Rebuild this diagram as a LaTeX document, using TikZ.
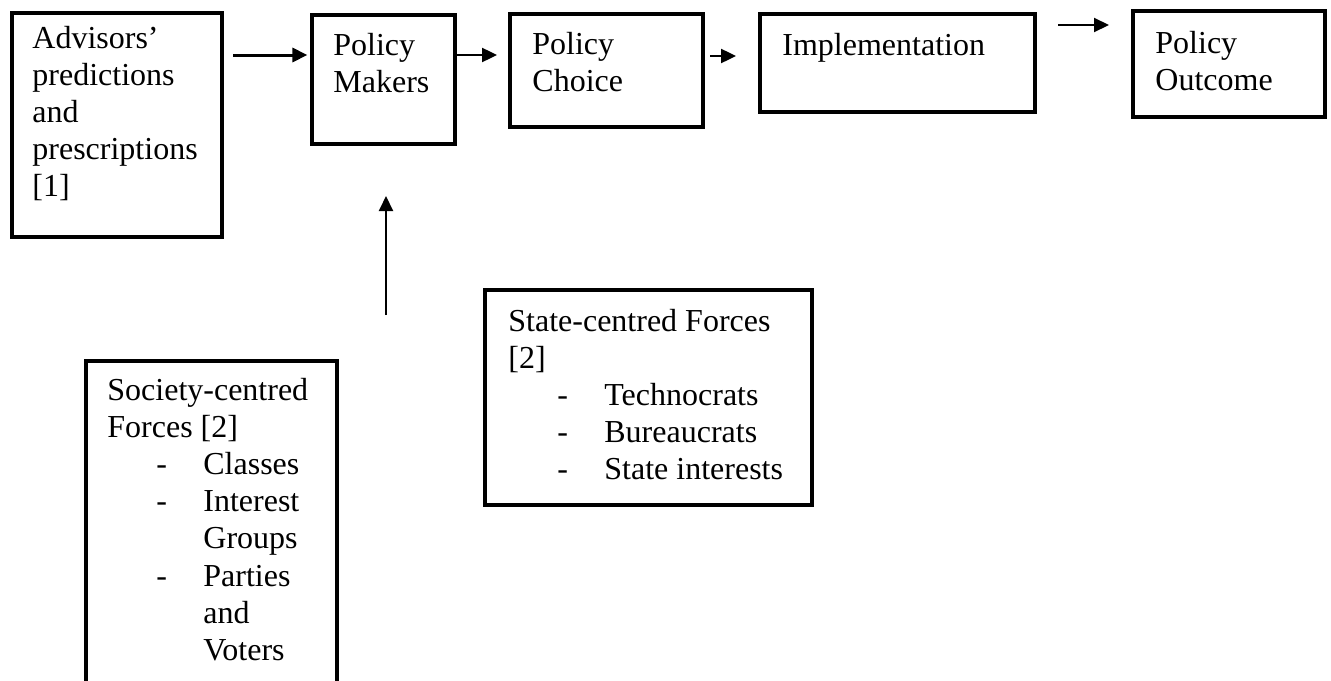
\documentclass[tikz,border=0pt]{standalone}
\usepackage{fontspec}
\setmainfont{Liberation Serif}
\usetikzlibrary{arrows.meta}
\newcommand{\dashitem}[1]{\hspace*{24.5pt}\makebox[23.5pt][l]{-}#1}
\newcommand{\contitem}[1]{\hspace*{48pt}#1}
\tikzset{
  box/.style={draw=black, line width=1.6pt, inner sep=0pt, fill=white},
  txt/.style={inner sep=0pt, anchor=base west, font=\fontsize{16pt}{18.6pt}\selectfont},
  arr/.style={draw=black, -{Triangle[length=7.5pt,width=7pt]}},
}
\begin{document}
\begin{tikzpicture}[x=0.5pt,y=-0.5pt]
\clip (0,0) rectangle (1331,680);
\fill[white] (0,0) rectangle (1331,680);
% boxes
\node[box, minimum width=105pt, minimum height=112pt] (adv) at (117,125) {};
\node[box, minimum width=71.5pt, minimum height=64.5pt] (pm) at (383.5,79.5) {};
\node[box, minimum width=96.5pt, minimum height=56.5pt] (pc) at (606.5,70.5) {};
\node[box, minimum width=137.5pt, minimum height=49pt] (imp) at (897.5,63) {};
\node[box, minimum width=96pt, minimum height=53pt] (po) at (1229,64) {};
\node[box, minimum width=125.5pt, minimum height=179.5pt] (soc) at (211.5,540.5) {};
\node[box, minimum width=163.5pt, minimum height=107.5pt] (sta) at (648.5,397.5) {};
% texts
\node[txt] (advt) at (32,48) {\parbox[t]{100pt}{Advisors’\\predictions\\and\\prescriptions\\{[1]}}};
\node[txt] (pmt) at (333,55) {\parbox[t]{60pt}{Policy\\Makers}};
\node[txt] (pct) at (532,54) {\parbox[t]{80pt}{Policy\\Choice}};
\node[txt] (impt) at (782,55) {\parbox[t]{120pt}{Implementation}};
\node[txt] (pot) at (1155,53) {\parbox[t]{80pt}{Policy\\Outcome}};
\node[txt] (soct) at (107,400) {\parbox[t]{115pt}{Society-centred\\Forces [2]\\\dashitem{Classes}\\\dashitem{Interest}\\\contitem{Groups}\\\dashitem{Parties}\\\contitem{and}\\\contitem{Voters}}};
\node[txt] (stat) at (508,331) {\parbox[t]{150pt}{State-centred Forces\\{[2]}\\\dashitem{Technocrats}\\\dashitem{Bureaucrats}\\\dashitem{State interests}}};
% connector ends
\coordinate (a1s) at (233,55);
\coordinate (a2e) at (497,55);
\coordinate (a3s) at (710,56);
\coordinate (a3e) at (736,56);
\coordinate (a4s) at (1058,25);
\coordinate (a4e) at (1109,25);
\coordinate (vs) at (386,315);
\coordinate (ve) at (386,196);
% connectors
\draw[arr, line width=1.5pt] (a1s) -- (a1s -| pm.west) [shorten >=1.5pt];
\draw[arr, line width=1.2pt] (a2e -| pm.east) -- (a2e);
\draw[arr, line width=1.2pt] (a3s) -- (a3e);
\draw[arr, line width=1pt] (a4s) -- (a4e);
\draw[arr, line width=1pt] (vs) -- (ve);
\end{tikzpicture}
\end{document}
